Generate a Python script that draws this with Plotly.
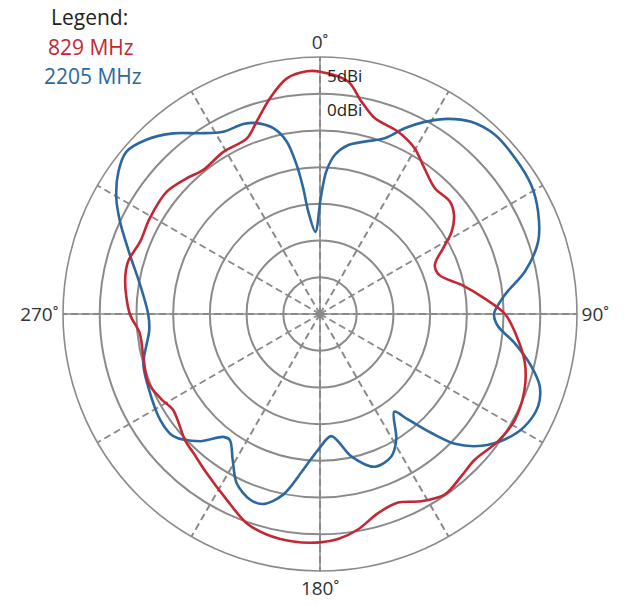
import plotly.graph_objects as go

# 829 MHz pattern (angle in degrees clockwise from top, gain in dBi)
red_theta = [0, 6.9, 11.0, 15.6, 23.2, 29.7, 35.7, 42.4, 49.1, 53.5, 58.1, 61.9, 66.9, 72.0,
             78.4, 84.6, 90, 97.4, 103.5, 110.3, 118.5, 125.6, 133.3, 139.0, 145.4, 151.6,
             157.5, 163.75, 170.0, 175.4, 180, 186.7, 193.6, 199.3, 206.7, 215.5, 222.3,
             226.7, 236.9, 241.6, 248.1, 256.5, 264, 270, 279.4, 285.3, 291.9, 299.4, 308.6,
             315.5, 321, 329.2, 337.4, 341.8, 347, 352, 356.9, 360]
red_gain = [3.0, 1.9, -0.5, -2.3, -3.0, -4.0, -5.6, -6.8, -6.6, -7.3, -8.9, -11.0, -13.0, -12.9,
            -10.3, -7.5, -4.8, -2.8, -1.3, -0.3, 0.2, -0.2, -1.05, -0.7, -0.1, -1.0,
            -2.2, -1.75, -0.2, 0.75, 1.1, 1.2, 0.9, 0.2, -1.7, -3.4, -4.4,
            -4.8, -6.1, -5.5, -4.8, -5.25, -5.3, -4.1, -3.1, -2.9, -3.6, -3.4, -3.3,
            -4.1, -4.75, -4.3, -4.1, -2.4, 0.2, 2.4, 3.1, 3.0]

# 2205 MHz pattern
blue_theta = [0.35, 2.5, 5.3, 9.4, 14.5, 20.2, 24.5, 28.6, 33.3, 38.2, 44.3, 51.35, 58.6, 64.9,
              71.65, 78.3, 84.1, 90, 93.95, 98.5, 103.9, 108.2, 112.9, 118.75, 124.2, 129.2,
              133.9, 136.9, 140.2, 142.75, 148.7, 153.4, 160.3, 167.6, 174.7, 180.8, 186.1,
              191.5, 196.6, 200.7, 206.2, 210.9, 215.6, 218.2, 223.3, 230.2, 236.5, 247.2,
              254.2, 264.7, 270, 279.15, 287.25, 294.8, 299.6, 305.2, 310.0, 315.1, 320.9,
              326.4, 332.05, 338.0, 341.6, 345.9, 349.1, 351.1, 352.4, 353.5, 356.8, 360.35]
blue_gain = [-14.2, -10.6, -8.25, -6.7, -5.75, -4.5, -2.2, -0.2, 1.8, 3.3, 4.1, 4.0, 3.7, 2.8,
             1.3, -1.5, -4.7, -6.3, -5.7, -3.2, -0.35, 1.5, 2.25, 1.8, 0.4, -1.6,
             -4.5, -7.8, -11.3, -13.3, -10.0, -8.3, -7.9, -10.15, -13.3, -11.5, -8.7,
             -4.9, -3.0, -3.0, -4.3, -6.85, -8.9, -8.7, -6.2, -4.0, -3.9, -4.6,
             -5.0, -6.65, -6.6, -5.2, -2.9, 0.0, 1.9, 3.6, 4.4, 3.5, 1.7,
             -0.45, -1.9, -2.1, -2.6, -3.9, -6.1, -9.45, -12.7, -16.0, -18.8, -14.2]

ring_labels = ["5dBi", "0dBi"]
angle_ticks = [0, 30, 60, 90, 120, 150, 180, 210, 240, 270, 300, 330]
angle_text = ["0˚", "", "", "90˚", "", "", "180˚", "", "", "270˚", "", ""]
legend_title = "Legend:"
series_names = ["829 MHz", "2205 MHz"]

RED = "#C42733"
BLUE = "#2D67A0"
GRID = "#8a8a8a"
FONT = "Open Sans"
W, H = 638, 606


def px(x):
    return x / W


def py(y):
    return 1 - y / H


fig = go.Figure()

# solid main axes
fig.add_trace(go.Scatterpolar(r=[5, -30, 5], theta=[0, 0, 180], mode="lines",
                              line=dict(color=GRID, width=1.5), hoverinfo="skip", showlegend=False))
fig.add_trace(go.Scatterpolar(r=[5, -30, 5], theta=[90, 90, 270], mode="lines",
                              line=dict(color=GRID, width=1.5), hoverinfo="skip", showlegend=False))

fig.add_trace(go.Scatterpolar(r=blue_gain, theta=blue_theta, mode="lines", name=series_names[1],
                              line=dict(color=BLUE, width=2.6, shape="spline", smoothing=0.9),
                              showlegend=False))
fig.add_trace(go.Scatterpolar(r=red_gain, theta=red_theta, mode="lines", name=series_names[0],
                              line=dict(color=RED, width=2.6, shape="spline", smoothing=0.9),
                              showlegend=False))

fig.update_layout(
    width=W, height=H,
    margin=dict(l=0, r=0, t=0, b=0),
    paper_bgcolor="white",
    font=dict(family=FONT),
    polar=dict(
        domain=dict(x=[px(63), px(577)], y=[py(571), py(57)]),
        bgcolor="white",
        radialaxis=dict(range=[-30, 5], tick0=-30, dtick=5, showticklabels=False, ticks="",
                        showline=False, gridcolor=GRID, gridwidth=1.6),
        angularaxis=dict(rotation=90, direction="clockwise", tickmode="array",
                         tickvals=angle_ticks, ticktext=angle_text, ticks="",
                         gridcolor=GRID, griddash="7px,4px", gridwidth=1.5,
                         showline=True, linecolor=GRID, linewidth=1.6,
                         tickfont=dict(family=FONT, size=19, color="#333")),
    ),
    annotations=[
        dict(text=legend_title, x=px(90), y=py(17), xref="paper", yref="paper",
             xanchor="center", yanchor="middle",
             showarrow=False, font=dict(family=FONT, size=21, color="#222")),
        dict(text=series_names[0], x=px(91), y=py(47), xref="paper", yref="paper",
             xanchor="center", yanchor="middle",
             showarrow=False, font=dict(family=FONT, size=21, color=RED)),
        dict(text=series_names[1], x=px(93), y=py(76), xref="paper", yref="paper",
             xanchor="center", yanchor="middle",
             showarrow=False, font=dict(family=FONT, size=21, color=BLUE)),
        dict(text=ring_labels[0], x=px(325), y=py(76), xref="paper", yref="paper",
             xanchor="left", yanchor="middle",
             showarrow=False, font=dict(family=FONT, size=17, color="#222")),
        dict(text=ring_labels[1], x=px(325), y=py(110), xref="paper", yref="paper",
             xanchor="left", yanchor="middle",
             showarrow=False, font=dict(family=FONT, size=17, color="#222")),
    ],
)

fig.write_html("out.html", config={"displayModeBar": False},
               post_script="document.body.style.margin='0';")
